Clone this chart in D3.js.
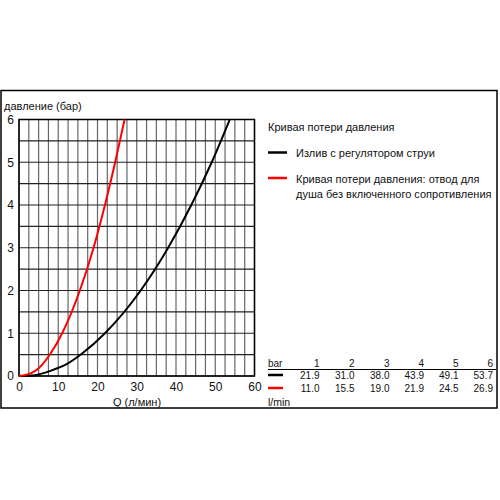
<!DOCTYPE html>
<html><head><meta charset="utf-8">
<script src="https://cdn.jsdelivr.net/npm/d3@7/dist/d3.min.js"></script>
<style>body{margin:0;background:#fff}svg{display:block;font-family:"Liberation Sans",Arial,sans-serif}</style>
</head><body><svg id="c" width="500" height="500"></svg>
<script>
// Data
const pressureBar = [0, 1, 2, 3, 4, 5, 6];
// curve points (l/min, bar)
const blackFlow = [0, 4, 8, 12, 16, 21.9, 31.0, 38.0, 43.9, 49.1, 53.7];
const blackBar  = [0, 0.02, 0.12, 0.27, 0.52, 1, 2, 3, 4, 5, 6];
const redFlow = [0, 3, 5, 8, 11.0, 15.5, 19.0, 21.9, 24.5, 26.9];
const redBar  = [0, 0.06, 0.18, 0.52, 1, 2, 3, 4, 5, 6];
const tableBar = [1, 2, 3, 4, 5, 6];
const tableBlack = ["21.9", "31.0", "38.0", "43.9", "49.1", "53.7"];
const tableRed = ["11.0", "15.5", "19.0", "21.9", "24.5", "26.9"];
const xTicks = [0, 10, 20, 30, 40, 50, 60];
const yTicks = [0, 1, 2, 3, 4, 5, 6];
const legendTitle = "Кривая потери давления";
const legendBlack = "Излив с регулятором струи";
const legendRed = ["Кривая потери давления: отвод для", "душа без включенного сопротивления"];

const svg = d3.select("#c");
// outer frame
svg.append("rect").attr("x", 1).attr("y", 90.5).attr("width", 496).attr("height", 317.5)
  .attr("fill", "none").attr("stroke", "#000").attr("stroke-width", 1.5);

const x = d3.scaleLinear().domain([0, 60]).range([19, 254.5]);
const y = d3.scaleLinear().domain([0, 6]).range([376, 119.5]);

const g = svg.append("g");
// vertical grid every 2.5
g.selectAll(".vg").data(d3.range(0, 60.01, 2.5)).join("line")
  .attr("x1", d => x(d)).attr("x2", d => x(d)).attr("y1", y(0)).attr("y2", y(6))
  .attr("stroke", "#666").attr("stroke-width", 1.2);
// horizontal grid every 0.5
g.selectAll(".hg").data(d3.range(0, 6.01, 0.5)).join("line")
  .attr("x1", x(0)).attr("x2", x(60)).attr("y1", d => y(d)).attr("y2", d => y(d))
  .attr("stroke", "#222").attr("stroke-width", 1.2);
// border
g.append("rect").attr("x", x(0)).attr("y", y(6)).attr("width", x(60) - x(0)).attr("height", y(0) - y(6))
  .attr("fill", "none").attr("stroke", "#000").attr("stroke-width", 1.5);

// axes via d3 axis (labels only)
const xa = svg.append("g").attr("transform", `translate(0,${y(0)})`)
  .call(d3.axisBottom(x).tickValues(xTicks).tickFormat(d3.format("d")).tickSize(0).tickPadding(6));
xa.select(".domain").remove();
xa.selectAll("text").attr("font-size", 12).attr("fill", "#111").attr("font-family", "Liberation Sans, Arial, sans-serif");
const ya = svg.append("g").attr("transform", `translate(${x(0)},0)`)
  .call(d3.axisLeft(y).tickValues(yTicks).tickFormat(d3.format("d")).tickSize(0).tickPadding(5));
ya.select(".domain").remove();
ya.selectAll("text").attr("font-size", 12).attr("fill", "#111").attr("font-family", "Liberation Sans, Arial, sans-serif");

svg.append("text").attr("x", 4).attr("y", 110).attr("font-size", 11).attr("fill", "#111").text("давление (бар)");
svg.append("text").attr("x", 137).attr("y", 405.5).attr("text-anchor", "middle").attr("font-size", 11).attr("fill", "#111").text("Q (л/мин)");

// curves
const line = d3.line().x(d => x(d[0])).y(d => y(d[1])).curve(d3.curveMonotoneX);
svg.append("path").datum(blackFlow.map((f, i) => [f, blackBar[i]]))
  .attr("d", line).attr("fill", "none").attr("stroke", "#000").attr("stroke-width", 2);
svg.append("path").datum(redFlow.map((f, i) => [f, redBar[i]]))
  .attr("d", line).attr("fill", "none").attr("stroke", "#ff0000").attr("stroke-width", 2);

// legend
svg.append("text").attr("x", 268).attr("y", 131).attr("font-size", 11).attr("fill", "#111").text(legendTitle);
svg.append("line").attr("x1", 268).attr("x2", 287).attr("y1", 152.5).attr("y2", 152.5).attr("stroke", "#000").attr("stroke-width", 2.5);
svg.append("text").attr("x", 296).attr("y", 157).attr("font-size", 11).attr("fill", "#111").text(legendBlack);
svg.append("line").attr("x1", 268).attr("x2", 287).attr("y1", 178).attr("y2", 178).attr("stroke", "#ff0000").attr("stroke-width", 2.5);
legendRed.forEach((t, i) => svg.append("text").attr("x", 296).attr("y", 182.5 + i * 15).attr("font-size", 11).attr("fill", "#111").text(t));

// table
const colX = [319.5, 354.5, 389.5, 424, 458.5, 493];
const fs = 10;
svg.append("text").attr("x", 268).attr("y", 366.5).attr("font-size", fs).attr("fill", "#111").text("bar");
tableBar.forEach((b, i) => svg.append("text").attr("x", colX[i]).attr("y", 366.5).attr("text-anchor", "end").attr("font-size", fs).attr("fill", "#111").text(b));
svg.append("line").attr("x1", 268).attr("x2", 496).attr("y1", 369.5).attr("y2", 369.5).attr("stroke", "#000").attr("stroke-width", 1);
svg.append("line").attr("x1", 268).attr("x2", 283).attr("y1", 375).attr("y2", 375).attr("stroke", "#000").attr("stroke-width", 2.5);
svg.append("line").attr("x1", 268).attr("x2", 283).attr("y1", 388).attr("y2", 388).attr("stroke", "#ff0000").attr("stroke-width", 2.5);
tableBlack.forEach((v, i) => svg.append("text").attr("x", colX[i]).attr("y", 379).attr("text-anchor", "end").attr("font-size", fs).attr("fill", "#111").text(v));
tableRed.forEach((v, i) => svg.append("text").attr("x", colX[i]).attr("y", 392).attr("text-anchor", "end").attr("font-size", fs).attr("fill", "#111").text(v));
svg.append("text").attr("x", 268).attr("y", 405.5).attr("font-size", 10.5).attr("fill", "#111").text("l/min");
</script></body></html>
